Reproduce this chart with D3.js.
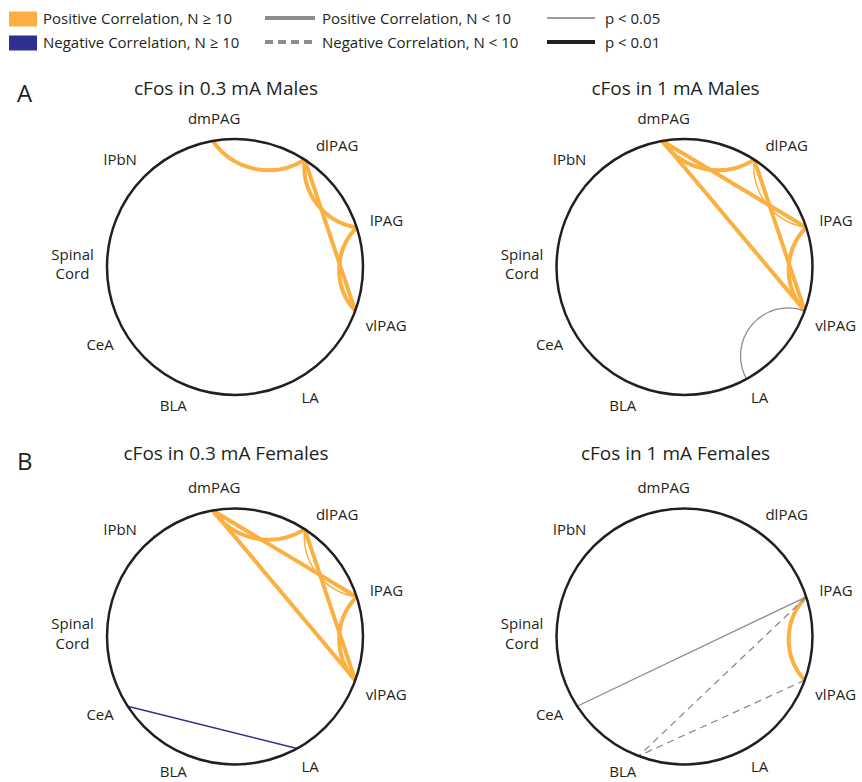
<!DOCTYPE html>
<html lang="en">
<head>
<meta charset="UTF-8" />
<title>cFos correlation networks</title>
<script src="https://d3js.org/d3.v7.min.js"></script>
<style>
  body { margin: 0; background: #fff; font-family: "Open Sans", sans-serif; }
  svg text { fill: #231f20; }
</style>
</head>
<body>
<svg id="chart" width="862" height="782"></svg>
<script>
// regions around each circle, clockwise from the top
const regions = ["dmPAG", "dlPAG", "lPAG", "vlPAG", "LA", "BLA", "CeA", "Spinal Cord", "lPbN"];

const titles = [
  "cFos in 0.3 mA Males",
  "cFos in 1 mA Males",
  "cFos in 0.3 mA Females",
  "cFos in 1 mA Females"
];
const rowLetters = ["A", "B"];

// [source, target, sign, N group, p level]
const males03 = [
  ["dmPAG", "dlPAG", "+", ">=10", "0.01"],
  ["dlPAG", "lPAG", "+", ">=10", "0.01"],
  ["dlPAG", "vlPAG", "+", ">=10", "0.01"],
  ["lPAG", "vlPAG", "+", ">=10", "0.01"]
];
const males1 = [
  ["dmPAG", "dlPAG", "+", ">=10", "0.01"],
  ["dmPAG", "lPAG", "+", ">=10", "0.01"],
  ["dmPAG", "vlPAG", "+", ">=10", "0.01"],
  ["dlPAG", "lPAG", "+", ">=10", "0.05"],
  ["dlPAG", "vlPAG", "+", ">=10", "0.01"],
  ["lPAG", "vlPAG", "+", ">=10", "0.01"],
  ["vlPAG", "LA", "+", "<10", "0.05"]
];
const females03 = [
  ["dmPAG", "dlPAG", "+", ">=10", "0.01"],
  ["dmPAG", "lPAG", "+", ">=10", "0.01"],
  ["dmPAG", "vlPAG", "+", ">=10", "0.01"],
  ["dlPAG", "lPAG", "+", ">=10", "0.05"],
  ["dlPAG", "vlPAG", "+", ">=10", "0.01"],
  ["lPAG", "vlPAG", "+", ">=10", "0.01"],
  ["CeA", "LA", "-", ">=10", "0.05"]
];
const females1 = [
  ["lPAG", "vlPAG", "+", ">=10", "0.01"],
  ["lPAG", "CeA", "+", "<10", "0.05"],
  ["lPAG", "BLA", "-", "<10", "0.05"],
  ["vlPAG", "BLA", "-", "<10", "0.05"]
];
const edgeSets = [males03, males1, females03, females1];

// ---- layout ----
const svg = d3.select("#chart");
const R = 128;
const ORANGE = "#fbb040", BLUE = "#2e3192", GRAY = "#8c8c8c", INK = "#231f20";

const nodeAngle = d3.scaleOrdinal().domain(regions)
  .range([350, 33, 72, 110, 151, 201, 237, 271, 311]);
const labelAngle = d3.scaleOrdinal().domain(regions)
  .range([352, 40, 73, 111, 150, 204, 240, 271, 313]);

const colX = d3.scaleOrdinal().domain([0, 1]).range([235, 684.5]);
const rowY = d3.scaleOrdinal().domain([0, 1]).range([267, 636.5]);

const rad = (a) => (a * Math.PI) / 180;
const pt = (a, r) => [r * Math.sin(rad(a)), -r * Math.cos(rad(a))];

function edgePath(e) {
  let a0 = nodeAngle(e[0]), a1 = nodeAngle(e[1]);
  let diff = (((a1 - a0) % 360) + 360) % 360;
  if (diff > 180) { [a0, a1] = [a1, a0]; diff = 360 - diff; }
  const p0 = pt(a0, R), p1 = pt(a1, R);
  const gap = Math.abs(regions.indexOf(e[0]) - regions.indexOf(e[1]));
  if (gap !== 1 && gap !== regions.length - 1) return `M${p0}L${p1}`;
  // neighbours are joined by an arc bowing toward the centre
  const chord = Math.hypot(p1[0] - p0[0], p1[1] - p0[1]);
  const rho = e[3] === "<10" ? R * Math.tan(rad(diff / 2)) : chord * 0.72;
  return `M${p0}A${rho},${rho} 0 0,0 ${p1}`;
}

const edgeColor = (e) => (e[3] === "<10" ? GRAY : e[2] === "+" ? ORANGE : BLUE);
const edgeWidth = (e) => (e[4] === "0.01" ? 4 : e[3] === "<10" ? 1.3 : 1.5);

titles.forEach((title, i) => {
  const col = i % 2, row = Math.floor(i / 2);
  const ox = colX(col), oy = rowY(row);
  const g = svg.append("g").attr("transform", `translate(${ox},${oy})`);

  g.append("text")
    .attr("x", -9)
    .attr("y", row === 0 ? -172 : -177)
    .attr("text-anchor", "middle")
    .style("font-size", "19px")
    .text(title);

  g.selectAll("path.edge")
    .data(edgeSets[i])
    .join("path")
    .attr("class", "edge")
    .attr("d", edgePath)
    .attr("fill", "none")
    .attr("stroke", edgeColor)
    .attr("stroke-width", edgeWidth)
    .attr("stroke-dasharray", (e) => (e[3] === "<10" && e[2] === "-" ? "7,5" : null));

  g.append("circle")
    .attr("r", R)
    .attr("fill", "none")
    .attr("stroke", INK)
    .attr("stroke-width", 2.5);

  const labels = g.selectAll("text.node")
    .data(regions)
    .join("text")
    .attr("class", "node")
    .attr("text-anchor", "middle")
    .style("font-size", "15px");

  labels.each(function (d) {
    const t = d3.select(this);
    const lines = d.split(" ");
    lines.forEach((ln, k) => {
      t.append("tspan").attr("x", 0).attr("dy", k === 0 ? 0 : 19.5).text(ln);
    });
    const box = this.getBBox();
    const a = labelAngle(d);
    const ux = Math.sin(rad(a)), uy = -Math.cos(rad(a));
    const h = 11 + (lines.length - 1) * 19.5;
    const dist = R + 13 + Math.abs(ux) * box.width / 2 + Math.abs(uy) * h / 2;
    const cx = ux * dist, cy = uy * dist;
    // baseline of first line so the block is centred on (cx, cy);
    // keep the descent inside the page
    const y0 = Math.min(cy - h / 2 + 11, 777 - oy);
    t.attr("transform", `translate(${cx},${y0})`);
  });
});

rowLetters.forEach((letter, row) => {
  svg.append("text")
    .attr("x", 17)
    .attr("y", row === 0 ? 102 : 470)
    .style("font-size", "24px")
    .text(letter);
});

// ---- legend ----
const legend = svg.append("g").style("font-size", "15px");
const legendRows = [18, 42];

legend.selectAll("rect")
  .data([ORANGE, BLUE])
  .join("rect")
  .attr("x", 9).attr("y", (d, i) => legendRows[i] - 6.5)
  .attr("width", 28).attr("height", 15)
  .attr("fill", (d) => d);

legend.selectAll("text.sw")
  .data(["Positive Correlation, N \u2265 10", "Negative Correlation, N \u2265 10"])
  .join("text").attr("class", "sw")
  .attr("x", 43).attr("y", (d, i) => legendRows[i] + 5.5)
  .text((d) => d);

legend.selectAll("line.n")
  .data([null, "8,5"])
  .join("line").attr("class", "n")
  .attr("x1", 265).attr("x2", 315)
  .attr("y1", (d, i) => legendRows[i]).attr("y2", (d, i) => legendRows[i])
  .attr("stroke", GRAY).attr("stroke-width", 4)
  .attr("stroke-dasharray", (d) => d);

legend.selectAll("text.n")
  .data(["Positive Correlation, N < 10", "Negative Correlation, N < 10"])
  .join("text").attr("class", "n")
  .attr("x", 322).attr("y", (d, i) => legendRows[i] + 5.5)
  .text((d) => d);

legend.selectAll("line.p")
  .data([1.5, 4])
  .join("line").attr("class", "p")
  .attr("x1", 547).attr("x2", 595)
  .attr("y1", (d, i) => legendRows[i]).attr("y2", (d, i) => legendRows[i])
  .attr("stroke", (d) => (d > 2 ? INK : "#7a7a7a")).attr("stroke-width", (d) => d);

legend.selectAll("text.p")
  .data(["p < 0.05", "p < 0.01"])
  .join("text").attr("class", "p")
  .attr("x", 605).attr("y", (d, i) => legendRows[i] + 5.5)
  .text((d) => d);
</script>
</body>
</html>
